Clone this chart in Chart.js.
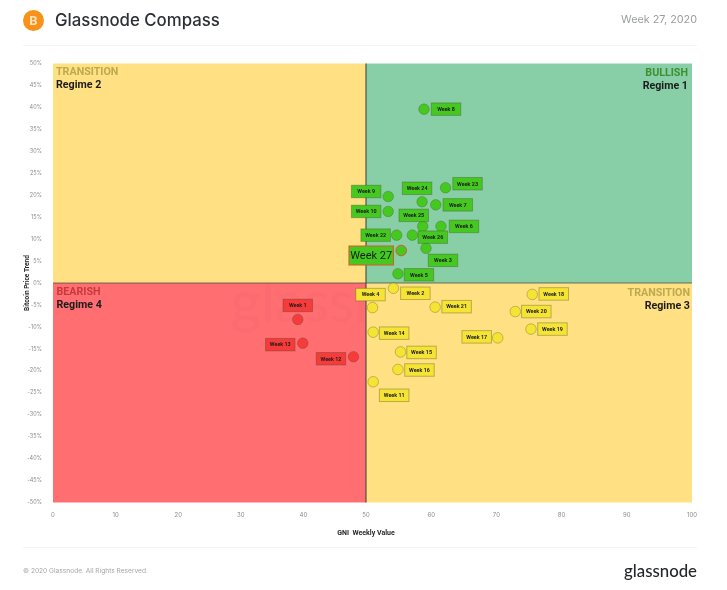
<!DOCTYPE html>
<html>
<head>
<meta charset="utf-8">
<title>Glassnode Compass</title>
<script src="https://cdn.jsdelivr.net/npm/chart.js@4"></script>
<style>
  html, body { margin: 0; padding: 0; background: #fff; }
  #page { position: relative; width: 727px; height: 590px; overflow: hidden; font-family: Inter, Roboto, sans-serif; }
  #myChart { position: absolute; left: 0; top: 0; }
  #coin { position: absolute; left: 23px; top: 9.5px; width: 21px; height: 21px; border-radius: 50%; background: #f7931a; color: #fde3bf; font: bold 13px/21px Roboto, sans-serif; text-align: center; }
  #title { position: absolute; left: 55px; top: 8px; font-size: 16.8px; line-height: 24px; font-weight: 500; color: #2b2f36; }
  #week { position: absolute; right: 30px; top: 12px; font-size: 10.8px; line-height: 16px; color: #9a9da0; }
  .rule { position: absolute; left: 23px; width: 674px; height: 1px; background: #f4f4f4; }
  #copy { position: absolute; left: 23px; top: 566px; font-size: 6.6px; line-height: 10px; color: #a5a5a5; }
  #logo { position: absolute; right: 30px; top: 560px; font: 500 16.8px/22px Lato, sans-serif; color: #24272b; }
</style>
</head>
<body>
<div id="page">
  <canvas id="myChart" width="727" height="590"></canvas>
  <div id="coin">B</div>
  <div id="title">Glassnode Compass</div>
  <div id="week">Week 27, 2020</div>
  <div class="rule" style="top:45px"></div>
  <div class="rule" style="top:547px"></div>
  <div id="copy">© 2020 Glassnode. All Rights Reserved.</div>
  <div id="logo">glassnode</div>
</div>
<script>
// data, week 1 to week 27
const weekLabels = ['Week 1', 'Week 2', 'Week 3', 'Week 4', 'Week 5', 'Week 6', 'Week 7', 'Week 8', 'Week 9',
  'Week 10', 'Week 11', 'Week 12', 'Week 13', 'Week 14', 'Week 15', 'Week 16', 'Week 17', 'Week 18',
  'Week 19', 'Week 20', 'Week 21', 'Week 22', 'Week 23', 'Week 24', 'Week 25', 'Week 26', 'Week 27'];
const gniValues = [39.1, 54.2, 59.2, 51, 54.9, 61.5, 60.7, 58.9, 53.4,
  53.4, 51.1, 48, 39.9, 51.1, 55.3, 54.9, 70.2, 75.5,
  75.3, 72.9, 60.6, 54.7, 62.2, 58.6, 58.7, 57.1, 55.4];
const trendValues = [-8.3, -1.2, 7.9, -5.6, 2.1, 12.9, 17.8, 39.6, 19.7,
  16.3, -22.5, -16.8, -13.7, -11.2, -15.7, -19.7, -12.5, -2.6,
  -10.5, -6.5, -5.5, 10.9, 21.7, 18.5, 12.9, 10.9, 7.4];
const xTicks = [0, 10, 20, 30, 40, 50, 60, 70, 80, 90, 100];
const yTicks = [50, 45, 40, 35, 30, 25, 20, 15, 10, 5, 0, -5, -10, -15, -20, -25, -30, -35, -40, -45, -50];

// where each week's tag sits, relative to its point (pixels)
const tagOffsets = [[0, -14], [22, 5], [17, 12], [-2, -13], [21, 1], [23, 0], [22, 0], [22, 0], [-22, -5],
  [-22, 0], [21, 13.5], [-22.5, 2], [-22.5, 1.5], [21, 1], [21, 0.5], [21.5, 0.5], [-21, -1], [21.5, -0.5],
  [21.5, 0], [21, 0], [21.5, -0.5], [-21, 0], [22, -4], [-5, -13.5], [-9, -11], [20.5, 2], [-30, 5]];

// quadrant colours
const GREEN = '#88cfa8', YELLOW = '#ffe083', RED = '#ff6f72';

function pointColor(i) {
  if (trendValues[i] >= 0) return gniValues[i] >= 50 ? '#45c820' : '#f5e433';
  return gniValues[i] >= 50 ? '#f5e433' : '#f73b3b';
}

// the axis of the original is not even: 0-50 is a bit narrower than 50-100
class SplitScale extends Chart.LinearScale {
  getPixelForValue(value) {
    const mid = this.left + this.width * 313 / 639;
    if (value <= 50) return this.left + (mid - this.left) * value / 50;
    return mid + (this.right - mid) * (value - 50) / 50;
  }
  getValueForPixel(pixel) {
    const mid = this.left + this.width * 313 / 639;
    if (pixel <= mid) return 50 * (pixel - this.left) / (mid - this.left);
    return 50 + 50 * (pixel - mid) / (this.right - mid);
  }
}
SplitScale.id = 'split';
SplitScale.defaults = Chart.LinearScale.defaults;
Chart.register(SplitScale);

// background quadrants + watermark + regime texts
const quadrants = {
  id: 'quadrants',
  beforeDatasetsDraw(chart) {
    const { ctx, chartArea: a, scales: { x, y } } = chart;
    const cx = x.getPixelForValue(50), cy = y.getPixelForValue(0);
    ctx.save();
    ctx.fillStyle = YELLOW; ctx.fillRect(a.left, a.top, cx - a.left, cy - a.top);
    ctx.fillStyle = GREEN; ctx.fillRect(cx, a.top, a.right - cx, cy - a.top);
    ctx.fillStyle = RED; ctx.fillRect(a.left, cy, cx - a.left, a.bottom - cy);
    ctx.fillStyle = YELLOW; ctx.fillRect(cx, cy, a.right - cx, a.bottom - cy);

    // watermark, only shows on the red part
    ctx.save();
    ctx.beginPath();
    ctx.rect(a.left, cy, cx - a.left, a.bottom - cy);
    ctx.clip();
    ctx.fillStyle = 'rgba(170,60,70,0.05)';
    ctx.font = '500 58px Lato, sans-serif';
    ctx.textAlign = 'center';
    ctx.textBaseline = 'middle';
    ctx.fillText('glassnode', cx - 9, cy + 20);
    ctx.restore();

    ctx.textBaseline = 'middle';
    ctx.fillStyle = 'rgba(60,70,60,0.7)';
    ctx.fillRect(a.left, cy - 0.5, a.right - a.left, 1);
    ctx.fillStyle = '#3a3a36';
    ctx.fillRect(cx - 0.5, a.top, 1, a.bottom - a.top);

    function regime(text, sub, color, px, py, align) {
      ctx.textAlign = align;
      ctx.font = 'bold 10.7px Roboto, sans-serif';
      ctx.fillStyle = color;
      ctx.fillText(text, px, py);
      ctx.fillStyle = '#1c1c1c';
      ctx.fillText(sub, px, py + 13);
    }
    regime('TRANSITION', 'Regime 2', '#bda950', a.left + 3, a.top + 9, 'left');
    regime('BULLISH', 'Regime 1', '#3d8f2f', a.right - 4, a.top + 10, 'right');
    regime('BEARISH', 'Regime 4', '#c8383c', a.left + 3.5, cy + 9.5, 'left');
    regime('TRANSITION', 'Regime 3', '#bda950', a.right - 2, cy + 10, 'right');

    // x axis title sits under the 50 tick, not under the middle of the axis
    ctx.textAlign = 'center';
    ctx.font = 'bold 7px Roboto, sans-serif';
    ctx.fillStyle = '#2a2a2a';
    ctx.fillText('GNI  Weekly Value', cx, a.bottom + 31);
    ctx.restore();
  }
};

// week tags next to the points
const weekTags = {
  id: 'weekTags',
  afterDatasetsDraw(chart) {
    const { ctx } = chart;
    const points = chart.getDatasetMeta(0).data;
    ctx.save();
    ctx.textAlign = 'center';
    ctx.textBaseline = 'middle';
    points.forEach((p, i) => {
      const last = i === weekLabels.length - 1;
      const w = last ? 44.5 : 29.5, h = last ? 19 : 12.5;
      const tx = p.x + tagOffsets[i][0], ty = p.y + tagOffsets[i][1];
      ctx.fillStyle = pointColor(i);
      ctx.fillRect(tx - w / 2, ty - h / 2, w, h);
      ctx.strokeStyle = last ? '#e0562a' : 'rgba(70,70,40,0.35)';
      ctx.lineWidth = 1;
      ctx.strokeRect(tx - w / 2, ty - h / 2, w, h);
      ctx.fillStyle = '#1c1c1c';
      ctx.font = last ? '11px Roboto, sans-serif' : 'bold 5.4px Roboto, sans-serif';
      ctx.fillText(weekLabels[i], tx, ty + 0.5);
    });
    ctx.restore();
  }
};

const ctx = document.getElementById('myChart');
new Chart(ctx, {
  type: 'scatter',
  data: {
    labels: weekLabels,
    datasets: [{
      label: 'Glassnode Compass',
      data: gniValues.map((v, i) => ({ x: v, y: trendValues[i] })),
      pointRadius: 5.3,
      backgroundColor: gniValues.map((v, i) => pointColor(i)),
      borderColor: gniValues.map((v, i) => i === 26 ? '#e0562a' : 'rgba(70,70,40,0.3)'),
      borderWidth: 1
    }]
  },
  plugins: [quadrants, weekTags],
  options: {
    responsive: false,
    animation: false,
    devicePixelRatio: 1,
    layout: { padding: { left: 23, right: 35, top: 63.5, bottom: 50 } },
    plugins: { legend: { display: false }, tooltip: { enabled: false } },
    scales: {
      x: {
        type: 'split',
        min: 0,
        max: 100,
        grid: { display: false },
        border: { display: false },
        afterBuildTicks: (scale) => { scale.ticks = xTicks.map(v => ({ value: v })); },
        ticks: { color: '#8a8a8a', font: { size: 6, family: 'Inter' }, padding: 1, maxRotation: 0, autoSkip: false },
        afterFit: (scale) => { scale.height = 37.5; }
      },
      y: {
        min: -50,
        max: 50,
        grid: { display: false },
        border: { display: false },
        afterBuildTicks: (scale) => { scale.ticks = yTicks.map(v => ({ value: v })); },
        ticks: { color: '#8a8a8a', font: { size: 5.5, family: 'Inter' }, padding: 3, autoSkip: false, callback: (v) => v + '%' },
        title: { display: true, text: 'Bitcoin Price Trend', color: '#2a2a2a', font: { size: 6.5, weight: 'bold', family: 'Roboto' }, padding: { top: 0, bottom: 3 } },
        afterFit: (scale) => { scale.width = 30; }
      }
    }
  }
});
</script>
</body>
</html>
